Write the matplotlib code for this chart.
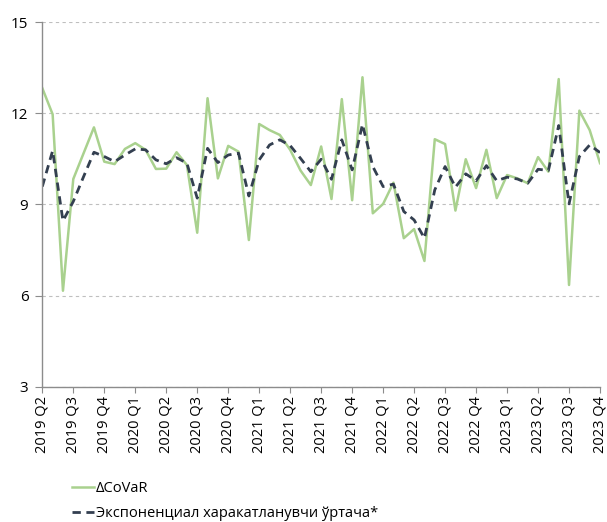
import matplotlib
matplotlib.use("Agg")
import matplotlib.pyplot as plt
import numpy as np

plt.rcParams['font.family'] = ['Open Sans', 'DejaVu Sans']

# квартальные подписи оси X (данные помесячные)
quarters = ["2019 Q2", "2019 Q3", "2019 Q4", "2020 Q1", "2020 Q2", "2020 Q3",
            "2020 Q4", "2021 Q1", "2021 Q2", "2021 Q3", "2021 Q4", "2022 Q1",
            "2022 Q2", "2022 Q3", "2022 Q4", "2023 Q1", "2023 Q2", "2023 Q3",
            "2023 Q4"]

covar = [12.83, 11.97, 6.16, 9.84, 10.69, 11.54, 10.41, 10.33, 10.83, 11.02,
         10.80, 10.17, 10.18, 10.72, 10.30, 8.07, 12.50, 9.86, 10.93, 10.74,
         7.83, 11.65, 11.45, 11.29, 10.80, 10.12, 9.64, 10.91, 9.18, 12.47,
         9.14, 13.19, 8.71, 9.02, 9.72, 7.89, 8.19, 7.14, 11.15, 10.99,
         8.80, 10.49, 9.54, 10.80, 9.21, 9.97, 9.86, 9.70, 10.56, 10.08,
         13.13, 6.35, 12.09, 11.45, 10.36]

ema = [9.59, 10.77, 8.46, 9.10, 9.92, 10.72, 10.58, 10.41, 10.63, 10.83,
       10.80, 10.47, 10.34, 10.54, 10.36, 9.21, 10.85, 10.38, 10.63, 10.69,
       9.28, 10.47, 10.96, 11.13, 10.94, 10.52, 10.08, 10.49, 9.83, 11.13,
       10.14, 11.64, 10.25, 9.59, 9.67, 8.77, 8.49, 7.89, 9.48, 10.25,
       9.57, 10.01, 9.78, 10.28, 9.78, 9.90, 9.84, 9.70, 10.16, 10.12,
       11.60, 9.02, 10.58, 10.96, 10.71]

labels = ["ΔCoVaR", "Экспоненциал харакатланувчи ўртача*"]

x = np.arange(len(covar))

fig = plt.figure(figsize=(6.07, 5.22), dpi=100)
ax = fig.add_axes([0.0697, 0.2592, 0.9188, 0.6981])

ax.plot(x, covar, color='#a9d18e', lw=1.8, label=labels[0])
ax.plot(x, ema, color='#333f50', lw=2.0, ls=(0, (3, 2)), label=labels[1])

ax.set_xlim(0, len(covar) - 1)
ax.set_ylim(3, 15)
ax.set_yticks([3, 6, 9, 12, 15])
ax.set_xticks(np.arange(0, len(covar), 3))
ax.set_xticklabels(quarters, rotation=90, fontsize=10.5)
ax.tick_params(axis='y', labelsize=11, length=5, color='#8c8c8c', pad=5)
ax.tick_params(axis='x', length=4, color='#8c8c8c', pad=3)

ax.grid(axis='y', color='#bfbfbf', ls=(0, (3, 3)), lw=0.8)
ax.set_axisbelow(True)
for s in ['top', 'right']:
    ax.spines[s].set_visible(False)
for s in ['left', 'bottom']:
    ax.spines[s].set_color('#8c8c8c')
    ax.spines[s].set_linewidth(1.0)

# легенда внизу
fig.legend(loc='upper left', bbox_to_anchor=(0.118, 0.079), frameon=False,
           fontsize=10.5, handlelength=1.5, handletextpad=0.15,
           labelspacing=0.7, borderaxespad=0, borderpad=0)

fig.savefig('out.png', dpi=100)
